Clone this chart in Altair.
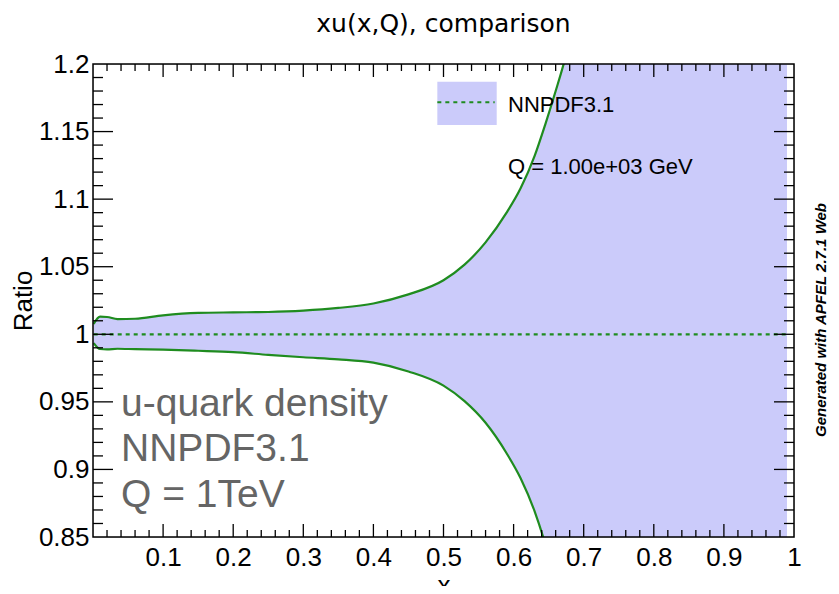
import altair as alt
import pandas as pd

# ---- data ----
X = [0.001, 0.01, 0.02, 0.035, 0.06, 0.1, 0.15, 0.2, 0.25, 0.3, 0.35, 0.4, 0.45,
     0.5, 0.53, 0.56, 0.59, 0.61, 0.63, 0.645, 0.66, 0.675, 0.7, 0.8, 0.9, 0.99]
UPPER = [1.0076, 1.013, 1.0128, 1.0112, 1.0115, 1.014, 1.0158, 1.0162, 1.0165, 1.0175,
         1.0195, 1.0228, 1.0295, 1.040, 1.0515, 1.068, 1.090, 1.108, 1.132, 1.155,
         1.18, 1.207, 1.27, 1.8, 2.5, 3.5]
LOWER = [0.9935, 0.9891, 0.9888, 0.9893, 0.9890, 0.9886, 0.9878, 0.9868, 0.9848, 0.9830,
         0.9815, 0.9790, 0.9725, 0.9620, 0.9505, 0.9345, 0.912, 0.8935, 0.869, 0.845,
         0.815, 0.78, 0.70, 0.4, 0.2, 0.0]
CENTER_X = [0.001, 0.99]
CENTER_Y = [1.0, 1.0]

X_LABELS = [0.1, 0.2, 0.3, 0.4, 0.5, 0.6, 0.7, 0.8, 0.9, 1.0]
Y_LABELS = [0.85, 0.9, 0.95, 1.0, 1.05, 1.1, 1.15, 1.2]
X_MAJOR = [0.1, 0.2, 0.3, 0.4, 0.5, 0.6, 0.7, 0.8, 0.9]
X_MINOR = [round(0.02 * i, 2) for i in range(1, 50) if i % 5 != 0]
Y_MAJOR = [0.9, 0.95, 1.0, 1.05, 1.1, 1.15]
Y_MINOR = [round(0.85 + 0.01 * i, 2) for i in range(1, 35) if i % 5 != 0]

TITLE = "xu(x,Q), comparison"
NOTE_LINES = ["u-quark density", "NNPDF3.1", "Q = 1TeV"]
NOTE_Y = [0.9395, 0.9062, 0.8722]
LEGEND_LABEL = "NNPDF3.1"
Q_LABEL = "Q = 1.00e+03 GeV"
WATERMARK = "Generated with APFEL 2.7.1 Web"

W, H = 701, 473
FILL = "#cbcbfa"
GREEN = "#1f8c1f"

xs = alt.Scale(domain=[0, 1], nice=False, zero=False)
ys = alt.Scale(domain=[0.85, 1.2], nice=False, zero=False)

band = pd.DataFrame({"x": X, "up": UPPER, "lo": LOWER})
center = pd.DataFrame({"x": CENTER_X, "y": CENTER_Y})

xaxis = alt.Axis(values=X_LABELS, format="~g", ticks=False, domain=False, grid=False,
                 labelFont="Liberation Sans", labelFontSize=26, labelColor="black",
                 labelPadding=7, labelFlush=False, title="x", titleFont="Liberation Sans",
                 titleFontSize=26, titleFontWeight="normal", titleColor="black",
                 titlePadding=2)
yaxis = alt.Axis(values=Y_LABELS, format="~g", ticks=False, domain=False, grid=False,
                 labelFont="Liberation Sans", labelFontSize=26, labelColor="black",
                 labelPadding=4, labelFlush=False, title="Ratio", titleFont="Liberation Sans",
                 titleFontSize=26, titleFontWeight="normal", titleColor="black",
                 titlePadding=2)

area = alt.Chart(band).mark_area(color=FILL, opacity=1, clip=True,
                                 interpolate="monotone").encode(
    x=alt.X("x:Q", scale=xs, axis=xaxis),
    y=alt.Y("up:Q", scale=ys, axis=yaxis),
    y2="lo:Q",
)
up_line = alt.Chart(band).mark_line(color=GREEN, strokeWidth=2.2, clip=True,
                                    interpolate="monotone").encode(
    x=alt.X("x:Q", scale=xs), y=alt.Y("up:Q", scale=ys))
lo_line = alt.Chart(band).mark_line(color=GREEN, strokeWidth=2.2, clip=True,
                                    interpolate="monotone").encode(
    x=alt.X("x:Q", scale=xs), y=alt.Y("lo:Q", scale=ys))
mid_line = alt.Chart(center).mark_line(color=GREEN, strokeWidth=2.2,
                                       strokeDash=[4, 4], clip=True).encode(
    x=alt.X("x:Q", scale=xs), y=alt.Y("y:Q", scale=ys))

# legend
leg_box = alt.Chart(pd.DataFrame({"x": [0.4912], "x2": [0.5759],
                                  "y": [1.1869], "y2": [1.1549]})).mark_rect(
    color=FILL).encode(x=alt.X("x:Q", scale=xs), x2="x2:Q",
                       y=alt.Y("y:Q", scale=ys), y2="y2:Q")
leg_line = alt.Chart(pd.DataFrame({"x": [0.4912, 0.573], "y": [1.1717, 1.1717]})).mark_line(
    color=GREEN, strokeWidth=2.2, strokeDash=[4, 4]).encode(
    x=alt.X("x:Q", scale=xs), y=alt.Y("y:Q", scale=ys))
leg_text = alt.Chart(pd.DataFrame({"x": [0.592, 0.592], "y": [1.1645, 1.1186],
                                   "t": [LEGEND_LABEL, Q_LABEL]})).mark_text(
    align="left", baseline="alphabetic", font="Liberation Sans", fontSize=22,
    color="black").encode(x=alt.X("x:Q", scale=xs), y=alt.Y("y:Q", scale=ys), text="t:N")

note = alt.Chart(pd.DataFrame({"x": [0.04] * 3, "y": NOTE_Y, "t": NOTE_LINES})).mark_text(
    align="left", baseline="alphabetic", font="Liberation Sans", fontSize=39,
    color="#656565").encode(x=alt.X("x:Q", scale=xs), y=alt.Y("y:Q", scale=ys), text="t:N")

wm = alt.Chart(pd.DataFrame({"x": [1.039], "y": [1.0106], "t": [WATERMARK]})).mark_text(
    angle=270, align="center", baseline="middle", font="Liberation Sans", fontSize=15,
    fontStyle="italic", fontWeight="bold", color="black").encode(
    x=alt.X("x:Q", scale=xs), y=alt.Y("y:Q", scale=ys), text="t:N")

# ROOT-style inward ticks
def xticks(vals, length):
    d = pd.DataFrame({"x": vals})
    b = alt.Chart(d).mark_rule(color="black", strokeWidth=1.3).encode(
        x=alt.X("x:Q", scale=xs), y=alt.value(H), y2=alt.value(H - length))
    t = alt.Chart(d).mark_rule(color="black", strokeWidth=1.3).encode(
        x=alt.X("x:Q", scale=xs), y=alt.value(0), y2=alt.value(length))
    return [b, t]

def yticks(vals, length):
    d = pd.DataFrame({"y": vals})
    l = alt.Chart(d).mark_rule(color="black", strokeWidth=1.3).encode(
        y=alt.Y("y:Q", scale=ys), x=alt.value(0), x2=alt.value(length))
    r = alt.Chart(d).mark_rule(color="black", strokeWidth=1.3).encode(
        y=alt.Y("y:Q", scale=ys), x=alt.value(W), x2=alt.value(W - length))
    return [l, r]

ticks = xticks(X_MAJOR, 13) + xticks(X_MINOR, 7) + yticks(Y_MAJOR, 20) + yticks(Y_MINOR, 10)

frame = alt.Chart(pd.DataFrame({"a": [0]})).mark_rect(
    fillOpacity=0, stroke="black", strokeWidth=1.5).encode(
    x=alt.value(0), x2=alt.value(W), y=alt.value(0), y2=alt.value(H))

chart = alt.layer(area, up_line, lo_line, mid_line, leg_box, leg_line, leg_text, note, wm,
                  *ticks, frame).properties(
    width=W, height=H,
    title=alt.TitleParams(TITLE, font="DejaVu Sans", fontSize=25, fontWeight="normal",
                          color="black", anchor="middle", frame="group", offset=14),
    autosize=alt.AutoSizeParams(type="none"),
    padding={"left": 85, "top": 56, "right": 37, "bottom": 49},
).configure_view(stroke=None).configure(background="white")

chart.save("out.html", embed_options={"renderer": "svg", "actions": False})
